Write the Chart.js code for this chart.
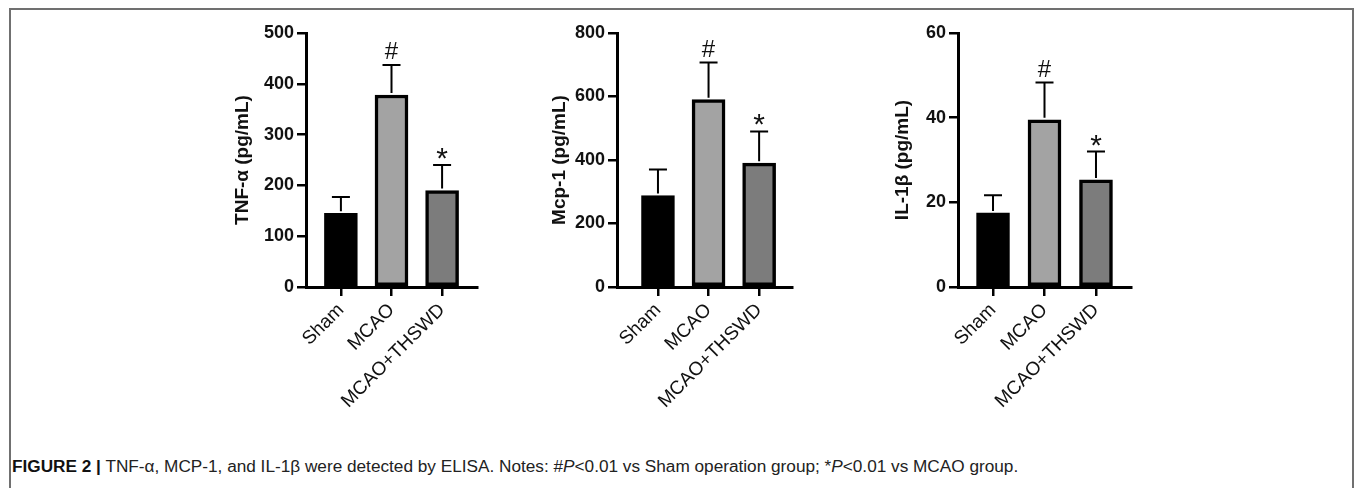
<!DOCTYPE html>
<html>
<head>
<meta charset="utf-8">
<script src="https://cdn.jsdelivr.net/npm/chart.js@4"></script>
<style>
    body { margin: 0; background: #fff; width: 1355px; height: 488px; overflow: hidden; position: relative; }
    #frame { position: absolute; left: 9px; top: 8px; width: 1341px; height: 600px; border: 2px solid #707070; border-bottom: none; }
    .chartBox { position: absolute; }
    #caption { position: absolute; left: 12px; top: 458px; font-family: "Liberation Sans", Arial, sans-serif; font-size: 16px; color: #222; white-space: nowrap; transform: scaleX(1.075); transform-origin: left top; }
    #caption b { color: #111; }
</style>
</head>
<body>
<div id="frame"></div>
<div class="chartBox" id="box1"><canvas id="tnfChart"></canvas></div>
<div class="chartBox" id="box2"><canvas id="mcpChart"></canvas></div>
<div class="chartBox" id="box3"><canvas id="ilChart"></canvas></div>
<div id="caption"><b>FIGURE 2 |</b> TNF-α, MCP-1, and IL-1β were detected by ELISA. Notes: #<i>P</i>&lt;0.01 vs Sham operation group; *<i>P</i>&lt;0.01 vs MCAO group.</div>

<script>
// groups and values
var groups = ['Sham', 'MCAO', 'MCAO+THSWD'];
var barColors = ['#000000', '#a3a3a3', '#7c7c7c'];
var marks = ['', '#', '*'];
var markSize = { '#': 24, '*': 30 };

var tnfMean = [145, 378, 190];
var tnfSd = [32, 59, 50];
var tnfTicks = [0, 100, 200, 300, 400, 500];

var mcpMean = [288, 590, 390];
var mcpSd = [82, 117, 100];
var mcpTicks = [0, 200, 400, 600, 800];

var ilMean = [17.5, 39.5, 25.3];
var ilSd = [4.2, 8.8, 6.7];
var ilTicks = [0, 20, 40, 60];

var Y_AXIS_W = 90;
var X_AXIS_H = 132;
var PAD_TOP = 15;
var PAD_RIGHT = 12;
var AREA_H = 254;

// error bars (upper half only) and significance marks
var errorBarPlugin = {
    id: 'errorBars',
    afterDatasetsDraw: function(chart, args, opts) {
        var ctx = chart.ctx;
        var xs = chart.scales.x, ys = chart.scales.y;
        ctx.save();
        ctx.strokeStyle = '#000';
        ctx.lineWidth = 2;
        opts.mean.forEach(function(m, i) {
            var x = xs.getPixelForValue(i);
            var y0 = ys.getPixelForValue(m);
            var y1 = ys.getPixelForValue(m + opts.sd[i]);
            ctx.beginPath();
            ctx.moveTo(x, y0 - 2);
            ctx.lineTo(x, y1);
            ctx.moveTo(x - 9, y1);
            ctx.lineTo(x + 9, y1);
            ctx.stroke();
            if (marks[i]) {
                ctx.font = markSize[marks[i]] + 'px "Liberation Sans", Arial, sans-serif';
                ctx.fillStyle = '#111';
                ctx.textAlign = 'center';
                ctx.textBaseline = 'alphabetic';
                var tm = ctx.measureText(marks[i]);
                ctx.fillText(marks[i], x, y1 - 6 - tm.actualBoundingBoxDescent);
            }
        });
        ctx.restore();
    }
};

function makeChart(canvasId, boxId, geo, mean, sd, ticks, title) {
    var areaW = geo.right - geo.left;
    var box = document.getElementById(boxId);
    box.style.left = (geo.left - Y_AXIS_W) + 'px';
    box.style.top = (geo.top - PAD_TOP) + 'px';
    var canvas = document.getElementById(canvasId);
    canvas.width = Y_AXIS_W + areaW + PAD_RIGHT;
    canvas.height = PAD_TOP + AREA_H + X_AXIS_H;

    return new Chart(canvas.getContext('2d'), {
        type: 'bar',
        data: {
            datasets: [{
                data: mean.map(function(v, i) { return { x: i, y: v }; }),
                backgroundColor: barColors,
                borderColor: '#000',
                borderWidth: 3.5,
                borderSkipped: false,
                barThickness: 33
            }]
        },
        options: {
            responsive: false,
            animation: false,
            layout: { padding: { top: PAD_TOP, right: PAD_RIGHT, left: 0, bottom: 0 } },
            plugins: {
                legend: { display: false },
                tooltip: { enabled: false },
                errorBars: { mean: mean, sd: sd }
            },
            scales: {
                x: {
                    type: 'linear',
                    offset: false,
                    min: geo.xmin,
                    max: geo.xmax,
                    afterBuildTicks: function(scale) {
                        scale.ticks = groups.map(function(g, i) { return { value: i }; });
                    },
                    afterFit: function(scale) { scale.height = X_AXIS_H; },
                    border: { display: true, color: '#000', width: 3 },
                    grid: { display: true, offset: false, drawOnChartArea: false, drawTicks: true, tickLength: 9, color: '#000', lineWidth: 2.5 },
                    ticks: {
                        autoSkip: false,
                        minRotation: 45,
                        maxRotation: 45,
                        padding: 3,
                        color: '#111',
                        font: { family: '"Liberation Sans", Arial, sans-serif', size: 19 },
                        callback: function(v) { return groups[v]; }
                    }
                },
                y: {
                    min: ticks[0],
                    max: ticks[ticks.length - 1],
                    afterBuildTicks: function(scale) {
                        scale.ticks = ticks.map(function(t) { return { value: t }; });
                    },
                    afterFit: function(scale) { scale.width = Y_AXIS_W; },
                    border: { display: true, color: '#000', width: 3 },
                    grid: { display: true, drawOnChartArea: false, drawTicks: true, tickLength: 9, color: '#000', lineWidth: 2.5 },
                    ticks: {
                        padding: 3,
                        color: '#111',
                        font: { family: '"Liberation Sans", Arial, sans-serif', size: 18, weight: 'bold' }
                    },
                    title: {
                        display: true,
                        text: title,
                        color: '#111',
                        padding: { top: geo.titlePad, bottom: 0 },
                        font: { family: '"Liberation Sans", Arial, sans-serif', size: 19, weight: 'bold' }
                    }
                }
            }
        },
        plugins: [errorBarPlugin]
    });
}

makeChart('tnfChart', 'box1', { left: 306, right: 477, top: 33, xmin: -0.69, xmax: 2.69, titlePad: 15 },
    tnfMean, tnfSd, tnfTicks, 'TNF-α (pg/mL)');
makeChart('mcpChart', 'box2', { left: 617, right: 792, top: 33, xmin: -0.81, xmax: 2.65, titlePad: 21 },
    mcpMean, mcpSd, mcpTicks, 'Mcp-1 (pg/mL)');
makeChart('ilChart', 'box3', { left: 958, right: 1131, top: 33, xmin: -0.68, xmax: 2.68, titlePad: 23 },
    ilMean, ilSd, ilTicks, 'IL-1β (pg/mL)');
</script>
</body>
</html>
